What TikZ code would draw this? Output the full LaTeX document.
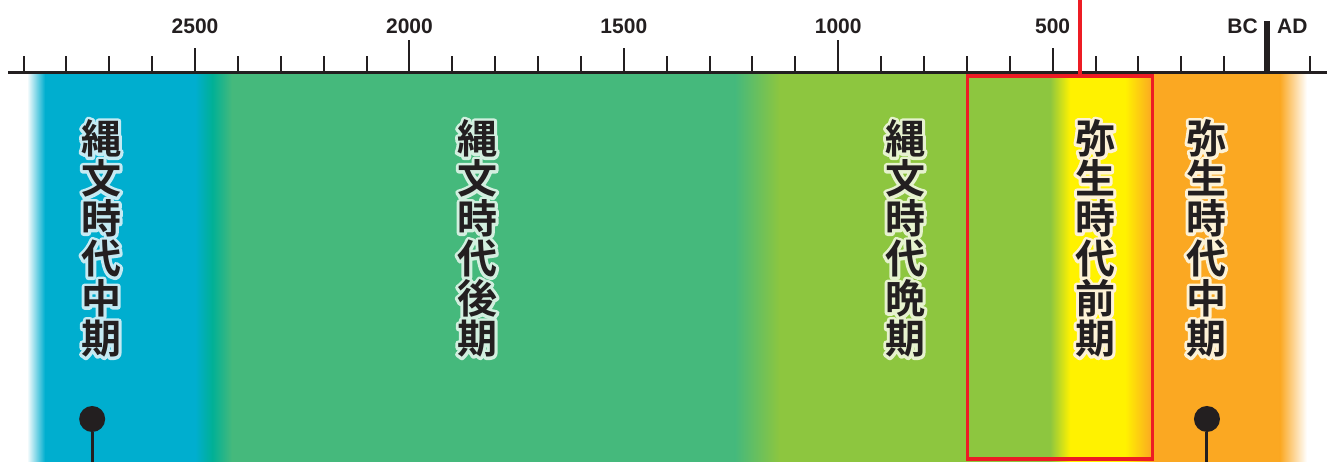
\documentclass[tikz,border=0pt]{standalone}
\usepackage{fontspec}
\setmainfont{Liberation Sans}
\newfontfamily\cjk{Noto Sans CJK JP}[BoldFont=* Bold]
\definecolor{inkdark}{HTML}{231F20}
\definecolor{jomonblue}{HTML}{00AECF}
\definecolor{jomonteal}{HTML}{00B096}
\definecolor{jomongreen}{HTML}{45B97C}
\definecolor{lategreen}{HTML}{8DC63F}
\definecolor{yayoiyellow}{HTML}{FFF200}
\definecolor{yayoiorange}{HTML}{FBA822}
\definecolor{markred}{HTML}{ED1C24}
\definecolor{haloblue}{HTML}{C5EAF3}
\definecolor{halomint}{HTML}{D2EFDF}
\definecolor{halolime}{HTML}{E6F2CE}
\definecolor{halocream}{HTML}{FDF2D6}
\tikzset{yeartick/.style={draw=inkdark, line width=2pt},
 yearlabel/.style={font=\bfseries\fontsize{21}{21}\selectfont, text=inkdark, inner sep=0pt},
 eratext/.style={font=\cjk\bfseries\fontsize{40}{40}\selectfont, align=center, text=inkdark, inner sep=0pt},
 pinhead/.style={circle, fill=inkdark, inner sep=0pt, minimum size=26pt},
 pinstem/.style={draw=inkdark, line width=3pt},
 }
% period name with a light halo round it (stroked glyph outlines)
\newcommand{\eralabel}[4]{%
 \node[eratext, text=#3] (#1-halo) at (#2)
  {\special{pdf:code 2 Tr 6 w 1 j}#4\special{pdf:code 0 Tr}};
 \node[eratext] (#1) at (#2) {#4};
}

\begin{document}
\begin{tikzpicture}[x=42.88pt, y=42.88pt]
        \useasboundingbox (-29.55, -9.072) rectangle (1.399, 1.702);

        % period bands
        \fill[jomonblue] (-28.55, -9.072) rectangle (-24.95, -0.03);
        \fill[jomongreen] (-24.2, -9.072) rectangle (-12.35, -0.03);
        \fill[lategreen] (-11.4, -9.072) rectangle (-5.0, -0.03);
        \fill[yayoiyellow] (-4.65, -9.072) rectangle (-3.25, -0.03);
        \fill[yayoiorange] (-2.72, -9.072) rectangle (0.35, -0.03);
        \shade[left color=white, right color=jomonblue] (-28.92, -9.072) rectangle (-28.5, -0.03);
        \shade[left color=jomonblue, right color=jomonteal] (-25, -9.072) rectangle (-24.6, -0.03);
        \shade[left color=jomonteal, right color=jomongreen] (-24.6, -9.072) rectangle (-24.14, -0.03);
        \shade[left color=jomongreen, right color=lategreen] (-12.41, -9.072) rectangle (-11.36, -0.03);
        \shade[left color=lategreen, right color=yayoiyellow] (-5.06, -9.072) rectangle (-4.59, -0.03);
        \shade[left color=yayoiyellow, right color=yayoiorange] (-3.31, -9.072) rectangle (-2.68, -0.03);
        \shade[left color=yayoiorange, right color=white] (0.3, -9.072) rectangle (0.93, -0.03);

        % time axis
        \draw[inkdark, line width=3pt] (-29.36, 0) -- (1.4, 0);
        \foreach \t in {-29,...,1}
            \draw[yeartick] (\t, 0) -- (\t, 0.4);
        \foreach \t in {-25,-15,-5}
            \draw[yeartick] (\t, 0) -- (\t, 0.583);
        \foreach \t in {-20,-10}
            \draw[yeartick] (\t, 0) -- (\t, 0.77);
        \draw[inkdark, line width=6pt] (0, 0) -- (0, 1.213);
        \node[yearlabel] (y2500) at (-25, 1.1) {2500};
        \node[yearlabel] (y2000) at (-20, 1.1) {2000};
        \node[yearlabel] (y1500) at (-15, 1.1) {1500};
        \node[yearlabel] (y1000) at (-10, 1.1) {1000};
        \node[yearlabel] (y500) at (-5, 1.1) {500};
        \node[yearlabel, anchor=east] (bc) at (-0.21, 1.1) {BC};
        \node[yearlabel, anchor=west] (ad) at (0.233, 1.1) {AD};

        % early Yayoi frame
        \node[draw=markred, line width=3.5pt, inner sep=0pt, minimum width=184.8pt,
              minimum height=383pt] (yayoiframe) at (-4.825, -4.535) {};
        \coordinate (redtop) at (-4.36, 1.702);
        \draw[markred, line width=3.5pt] (redtop) -- (redtop |- yayoiframe.north);

        % period names
        \eralabel{jomonmid}{-27.19, -3.86}{haloblue}{縄\\文\\時\\代\\中\\期}
        \eralabel{jomonlate}{-18.42, -3.86}{halomint}{縄\\文\\時\\代\\後\\期}
        \eralabel{jomonfinal}{-8.44, -3.86}{halolime}{縄\\文\\時\\代\\晩\\期}
        \eralabel{yayoiearly}{-4.01, -3.86}{halocream}{弥\\生\\時\\代\\前\\期}
        \eralabel{yayoimid}{-1.42, -3.86}{halocream}{弥\\生\\時\\代\\中\\期}

        % pins
        \node[pinhead] (leftpin) at (-27.4, -8.07) {};
        \coordinate (leftfoot) at (-27.4, -9.072);
        \draw[pinstem] (leftpin) -- (leftfoot);
        \node[pinhead] (rightpin) at (-1.4, -8.07) {};
        \coordinate (rightfoot) at (-1.4, -9.072);
        \draw[pinstem] (rightpin) -- (rightfoot);
    \end{tikzpicture}
\end{document}
